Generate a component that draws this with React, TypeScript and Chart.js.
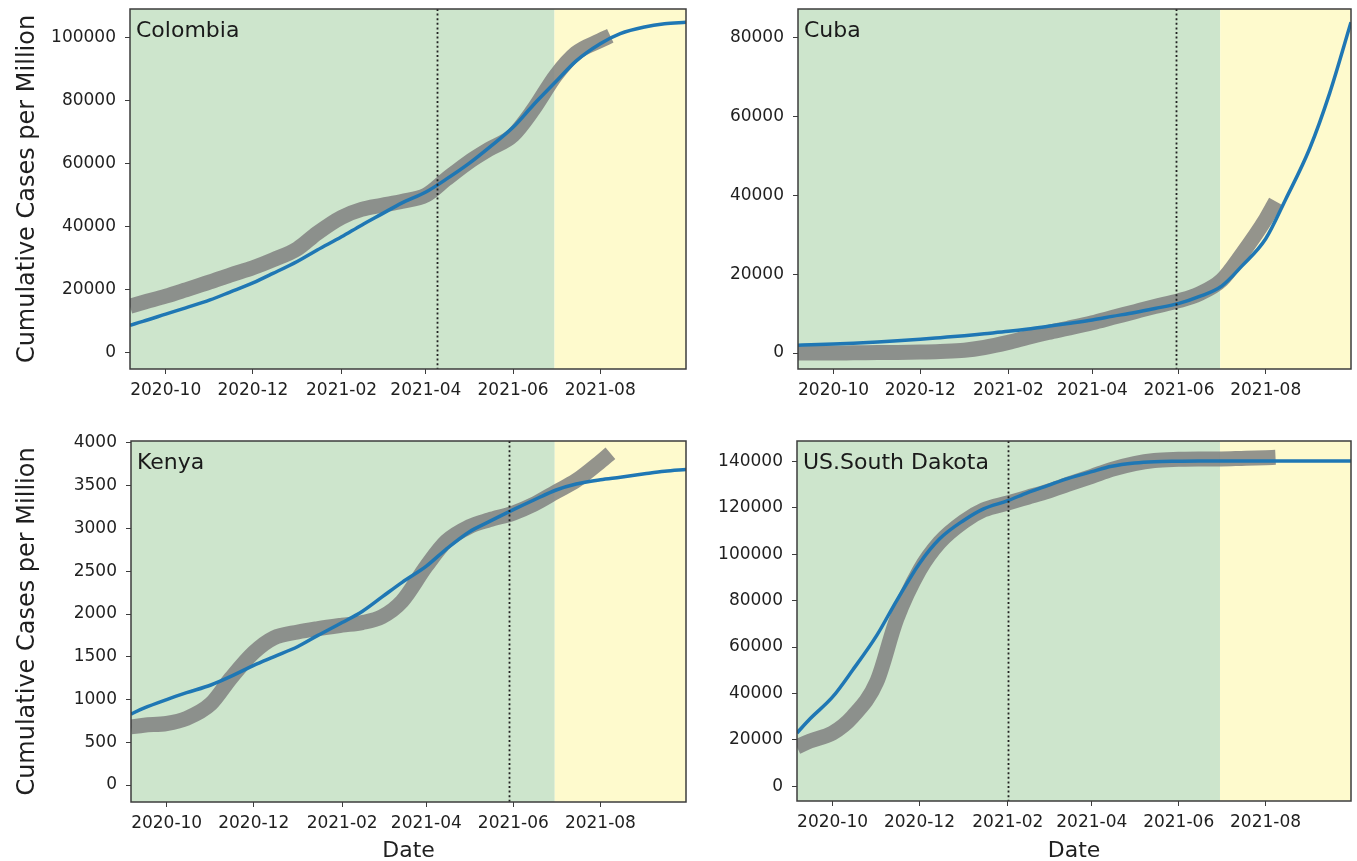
import React, { useEffect, useRef } from 'react';
import { Chart, registerables } from 'chart.js';

Chart.register(...registerables);

// ---------------- DATA ----------------
const modelDates = [
  '2020-09-06', '2020-09-15', '2020-10-01', '2020-10-15', '2020-11-01', '2020-11-15',
  '2020-12-01', '2020-12-15', '2021-01-01', '2021-01-15', '2021-02-01', '2021-02-15',
  '2021-03-01', '2021-03-15', '2021-04-01', '2021-04-15', '2021-05-01', '2021-05-15',
  '2021-06-01', '2021-06-15', '2021-07-01', '2021-07-15', '2021-08-01', '2021-08-15',
  '2021-09-01', '2021-09-15', '2021-09-30',
];
const observedDates = [
  '2020-09-06', '2020-09-15', '2020-10-01', '2020-10-15', '2020-11-01', '2020-11-15',
  '2020-12-01', '2020-12-15', '2021-01-01', '2021-01-15', '2021-02-01', '2021-02-15',
  '2021-03-01', '2021-03-15', '2021-04-01', '2021-04-15', '2021-05-01', '2021-05-15',
  '2021-06-01', '2021-06-15', '2021-07-01', '2021-07-15', '2021-08-01', '2021-08-08',
];

const xTickLabels = ['2020-10', '2020-12', '2021-02', '2021-04', '2021-06', '2021-08'];
const xRange = ['2020-09-06', '2021-09-30'];
const phaseBoundary = '2021-06-30';

const colombiaModel = [
  8800, 10000, 12300, 14300, 16800, 19300, 22200, 25200, 29000, 32600, 36800, 40500,
  44000, 47500, 51000, 55000, 60000, 65000, 71500, 78500, 86000, 92500, 98000, 101200,
  103300, 104300, 104800,
];
const colombiaObserved = [
  14800, 16000, 18000, 20000, 22500, 24700, 27000, 29500, 33000, 38000, 43000, 45500,
  46800, 48000, 50000, 55000, 60500, 64500, 69000, 77000, 88000, 95000, 99000, 100500,
];
const colombiaCutoff = '2021-04-09';
const colombiaYTicks = [0, 20000, 40000, 60000, 80000, 100000];

const cubaModel = [
  2000, 2100, 2300, 2500, 2800, 3100, 3500, 3900, 4400, 4900, 5500, 6100,
  6800, 7500, 8400, 9300, 10300, 11300, 12600, 14300, 17000, 22000, 29000, 39000,
  52000, 66000, 84000,
];
const cubaObserved = [
  0, 0, 0, 50, 100, 150, 250, 400, 700, 1400, 2700, 4000,
  5200, 6300, 7700, 9000, 10500, 11800, 13300, 15000, 18500, 25000, 34000, 38500,
];
const cubaCutoff = '2021-05-30';
const cubaYTicks = [0, 20000, 40000, 60000, 80000];

const kenyaModel = [
  830, 900, 1000, 1080, 1170, 1270, 1400, 1500, 1620, 1750, 1900, 2030,
  2200, 2370, 2560, 2760, 2960, 3080, 3220, 3330, 3450, 3520, 3570, 3600,
  3640, 3670, 3690,
];
const kenyaObserved = [
  680, 700, 720, 780, 950, 1250, 1550, 1720, 1790, 1830, 1870, 1900,
  1970, 2150, 2560, 2850, 3020, 3100, 3180, 3280, 3430, 3560, 3780, 3880,
];
const kenyaCutoff = '2021-05-29';
const kenyaYTicks = [0, 500, 1000, 1500, 2000, 2500, 3000, 3500, 4000];

const dakotaModel = [
  23000, 29000, 38500, 50000, 65000, 80000, 96000, 106500, 114500, 119500, 123000, 126500,
  129500, 132500, 135500, 137800, 139200, 139800, 140000, 140100, 140100, 140100, 140100, 140100,
  140100, 140100, 140100,
];
const dakotaObserved = [
  17000, 19500, 23000, 30000, 45000, 72000, 93000, 105000, 114000, 119000, 122000, 124500,
  127000, 130000, 133500, 136500, 139000, 140300, 140800, 141000, 141000, 141200, 141500, 141700,
];
const dakotaCutoff = '2021-02-01';
const dakotaYTicks = [0, 20000, 40000, 60000, 80000, 100000, 120000, 140000];

// ---------------- HELPERS ----------------
const toMs = (s: string) => {
  const p = s.split('-').map(Number);
  return Date.UTC(p[0], p[1] - 1, p.length > 2 ? p[2] : 1);
};

const FONT = "'DejaVu Sans', 'Liberation Sans', sans-serif";
const TEXT = '#1f1f1f';
const SPINE = '#3c3c3c';

type PanelCfg = {
  name: string;
  model: number[];
  observed: number[];
  cutoff: string;
  yTicks: number[];
  yMin: number;
  yMax: number;
  yTitle: boolean;
  xTitle: boolean;
  left: number;
  top: number;
  width: number;
  height: number;
  yWidth: number;
  xHeight: number;
  padTop: number;
  padRight: number;
};

const panelPlugin = {
  id: 'panelDeco',
  beforeDatasetsDraw(chart: any) {
    const { ctx, chartArea } = chart;
    const xs = chart.scales.x;
    const b = xs.getPixelForValue(toMs(phaseBoundary));
    ctx.save();
    ctx.fillStyle = 'rgb(205,229,204)';
    ctx.fillRect(chartArea.left, chartArea.top, b - chartArea.left, chartArea.bottom - chartArea.top);
    ctx.fillStyle = 'rgb(254,250,205)';
    ctx.fillRect(b, chartArea.top, chartArea.right - b, chartArea.bottom - chartArea.top);
    ctx.restore();
  },
  afterDatasetsDraw(chart: any, _args: any, opts: any) {
    const { ctx, chartArea } = chart;
    const xs = chart.scales.x;
    const cx = Math.round(xs.getPixelForValue(toMs(opts.cutoff))) + 0.5;
    ctx.save();
    ctx.strokeStyle = '#222';
    ctx.lineWidth = 1.8;
    ctx.setLineDash([2, 2.6]);
    ctx.beginPath();
    ctx.moveTo(cx, chartArea.top);
    ctx.lineTo(cx, chartArea.bottom);
    ctx.stroke();
    ctx.setLineDash([]);
    ctx.fillStyle = '#1a1a1a';
    ctx.font = `22px ${FONT}`;
    ctx.textBaseline = 'alphabetic';
    ctx.textAlign = 'left';
    ctx.fillText(opts.name, chartArea.left + 6, chartArea.top + 28);
    ctx.strokeStyle = SPINE;
    ctx.lineWidth = 1.5;
    ctx.strokeRect(chartArea.left, chartArea.top, chartArea.right - chartArea.left, chartArea.bottom - chartArea.top);
    ctx.restore();
  },
};

function Panel({ cfg }: { cfg: PanelCfg }) {
  const ref = useRef<HTMLCanvasElement | null>(null);
  useEffect(() => {
    if (!ref.current) return;
    const chart = new Chart(ref.current, {
      type: 'line',
      data: {
        datasets: [
          {
            data: modelDates.map((d, i) => ({ x: toMs(d), y: cfg.model[i] })),
            borderColor: '#1f77b4',
            borderWidth: 3.5,
            pointRadius: 0,
            cubicInterpolationMode: 'monotone',
            clip: 0,
          } as any,
          {
            data: observedDates.map((d, i) => ({ x: toMs(d), y: cfg.observed[i] })),
            borderColor: 'rgba(128,128,128,0.84)',
            borderWidth: 15,
            pointRadius: 0,
            cubicInterpolationMode: 'monotone',
            borderCapStyle: 'butt',
            clip: 0,
          } as any,
        ],
      },
      options: {
        animation: false,
        responsive: false,
        maintainAspectRatio: false,
        layout: { padding: { top: cfg.padTop, right: cfg.padRight, left: 0, bottom: 0 } },
        plugins: {
          legend: { display: false },
          tooltip: { enabled: false },
          panelDeco: { cutoff: cfg.cutoff, name: cfg.name },
        } as any,
        scales: {
          x: {
            type: 'linear',
            min: toMs(xRange[0]),
            max: toMs(xRange[1]),
            afterBuildTicks: (s: any) => {
              s.ticks = xTickLabels.map((t) => ({ value: toMs(t) }));
            },
            afterFit: (s: any) => {
              s.height = cfg.xHeight;
              s.paddingLeft = 0;
              s.paddingRight = 0;
            },
            ticks: {
              autoSkip: false,
              maxRotation: 0,
              minRotation: 0,
              padding: 6,
              color: TEXT,
              font: { family: FONT, size: 17 },
              callback: (v: any) => new Date(Number(v)).toISOString().slice(0, 7),
            },
            grid: { drawOnChartArea: false, drawTicks: true, tickLength: 5, color: SPINE },
            border: { display: false },
            title: {
              display: cfg.xTitle,
              text: 'Date',
              color: TEXT,
              font: { family: FONT, size: 22, lineHeight: 0.8 },
              padding: { top: 0, bottom: 1 },
            },
          },
          y: {
            type: 'linear',
            min: cfg.yMin,
            max: cfg.yMax,
            afterBuildTicks: (s: any) => {
              s.ticks = cfg.yTicks.map((t) => ({ value: t }));
            },
            afterFit: (s: any) => {
              s.width = cfg.yWidth;
              s.paddingTop = 0;
              s.paddingBottom = 0;
            },
            ticks: {
              padding: 9,
              color: TEXT,
              font: { family: FONT, size: 17 },
              callback: (v: any) => String(v),
            },
            grid: { drawOnChartArea: false, drawTicks: true, tickLength: 5, color: SPINE },
            border: { display: false },
            title: {
              display: cfg.yTitle,
              text: 'Cumulative Cases per Million',
              color: TEXT,
              font: { family: FONT, size: 24, lineHeight: 1.2 },
              padding: { top: 13, bottom: 0 },
            },
          },
        },
      },
      plugins: [panelPlugin as any],
    });
    return () => chart.destroy();
  }, [cfg]);
  return (
    <canvas
      ref={ref}
      width={cfg.width}
      height={cfg.height}
      style={{ position: 'absolute', left: cfg.left, top: cfg.top, width: cfg.width, height: cfg.height, display: 'block' }}
    />
  );
}

const panels: PanelCfg[] = [
  {
    name: 'Colombia', model: colombiaModel, observed: colombiaObserved, cutoff: colombiaCutoff,
    yTicks: colombiaYTicks, yMin: -5080, yMax: 109000, yTitle: true, xTitle: false,
    left: 0, top: 0, width: 700, height: 420, yWidth: 130, xHeight: 51, padTop: 9, padRight: 14,
  },
  {
    name: 'Cuba', model: cubaModel, observed: cubaObserved, cutoff: cubaCutoff,
    yTicks: cubaYTicks, yMin: -4060, yMax: 87360, yTitle: false, xTitle: false,
    left: 700, top: 0, width: 657, height: 420, yWidth: 98, xHeight: 51, padTop: 9, padRight: 6,
  },
  {
    name: 'Kenya', model: kenyaModel, observed: kenyaObserved, cutoff: kenyaCutoff,
    yTicks: kenyaYTicks, yMin: -198, yMax: 4023, yTitle: true, xTitle: true,
    left: 0, top: 420, width: 700, height: 441, yWidth: 131, xHeight: 59, padTop: 21, padRight: 14,
  },
  {
    name: 'US.South Dakota', model: dakotaModel, observed: dakotaObserved, cutoff: dakotaCutoff,
    yTicks: dakotaYTicks, yMin: -6300, yMax: 148700, yTitle: false, xTitle: true,
    left: 700, top: 420, width: 657, height: 441, yWidth: 97, xHeight: 60, padTop: 21, padRight: 6,
  },
];

export default function App() {
  return (
    <div style={{ position: 'fixed', left: 0, top: 0, width: 1357, height: 861, background: '#ffffff', overflow: 'hidden' }}>
      {panels.map((p) => (
        <Panel key={p.name} cfg={p} />
      ))}
    </div>
  );
}
